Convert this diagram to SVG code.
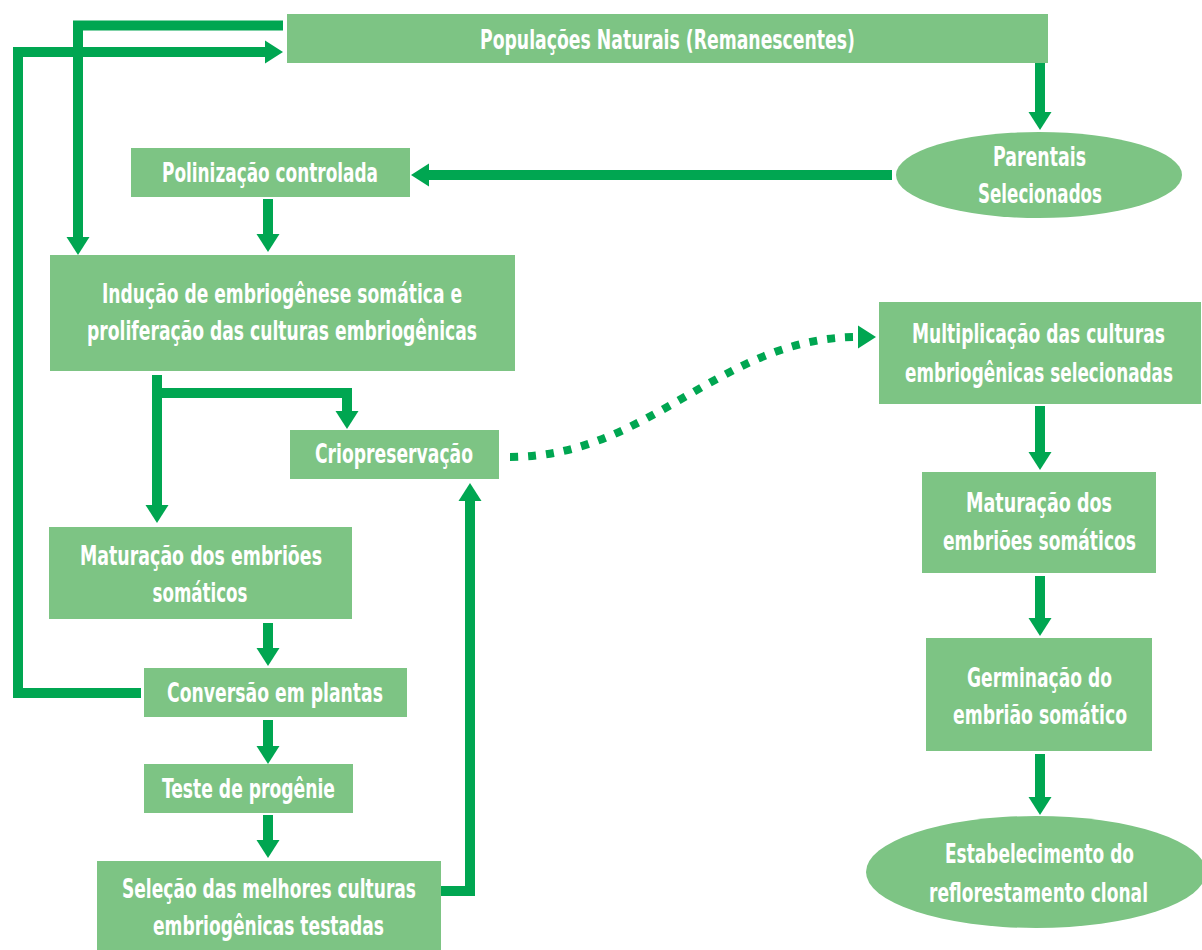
<svg xmlns="http://www.w3.org/2000/svg" width="1202" height="950" viewBox="0 0 1202 950">
<style>
.box{fill:#7dc484;}
.t{fill:#ffffff;font-family:"DejaVu Sans Condensed","DejaVu Sans",sans-serif;font-weight:bold;font-size:26px;text-anchor:middle;}
.c{fill:none;stroke:#00a651;stroke-width:10;stroke-linejoin:miter;stroke-linecap:butt;}
.d{fill:none;stroke:#00a651;stroke-width:8;stroke-dasharray:8 10;}
</style>
<defs>
<marker id="ah" viewBox="0 -11.5 18 23" refX="0" refY="0" markerWidth="18" markerHeight="23" markerUnits="userSpaceOnUse" orient="auto" overflow="visible">
<path d="M0,-11.5 L18,0 L0,11.5 z" fill="#00a651"/>
</marker>
</defs>
<rect width="1202" height="950" fill="#ffffff"/>
<g id="connectors">
<path class="c" d="M283,25.5 H78 V237" marker-end="url(#ah)"/>
<path class="c" d="M141,693 H18 V52 H265" marker-end="url(#ah)"/>
<path class="c" d="M1040,63 V112" marker-end="url(#ah)"/>
<path class="c" d="M892,175 H429" marker-end="url(#ah)"/>
<path class="c" d="M268,199 V234" marker-end="url(#ah)"/>
<path class="c" d="M157,375 V505" marker-end="url(#ah)"/>
<path class="c" d="M152,393 H347 V411" marker-end="url(#ah)"/>
<path class="c" d="M268,623 V648" marker-end="url(#ah)"/>
<path class="c" d="M268,720 V746" marker-end="url(#ah)"/>
<path class="c" d="M268,815 V840" marker-end="url(#ah)"/>
<path class="c" d="M441,891 H470 V501" marker-end="url(#ah)"/>
<path class="d" d="M510,457 C650,457 720,337 858,337" marker-end="url(#ah)"/>
<path class="c" d="M1040,406 V452" marker-end="url(#ah)"/>
<path class="c" d="M1040,576 V618" marker-end="url(#ah)"/>
<path class="c" d="M1040,754 V797" marker-end="url(#ah)"/>
</g>
<g id="populacoes">
<rect class="box" x="287" y="14" width="761" height="49"/>
<text class="t" transform="scale(0.8 1)" x="834.375" y="49" textLength="468.75" lengthAdjust="spacingAndGlyphs">Populações Naturais (Remanescentes)</text>
</g>
<g id="parentais">
<ellipse class="box" cx="1039" cy="175" rx="143" ry="43"/>
<text class="t" transform="scale(0.8 1)" x="1299.375" y="166" textLength="116.25" lengthAdjust="spacingAndGlyphs">Parentais</text>
<text class="t" transform="scale(0.8 1)" x="1300" y="203" textLength="155" lengthAdjust="spacingAndGlyphs">Selecionados</text>
</g>
<g id="polinizacao">
<rect class="box" x="131" y="148" width="279" height="49"/>
<text class="t" transform="scale(0.8 1)" x="337.5" y="182" textLength="270" lengthAdjust="spacingAndGlyphs">Polinização controlada</text>
</g>
<g id="inducao">
<rect class="box" x="50" y="255" width="465" height="116"/>
<text class="t" transform="scale(0.8 1)" x="352.5" y="303" textLength="450" lengthAdjust="spacingAndGlyphs">Indução de embriogênese somática e</text>
<text class="t" transform="scale(0.8 1)" x="352.5" y="340" textLength="487.5" lengthAdjust="spacingAndGlyphs">proliferação das culturas embriogênicas</text>
</g>
<g id="criopreservacao">
<rect class="box" x="290" y="430" width="209" height="49"/>
<text class="t" transform="scale(0.8 1)" x="492.5" y="463" textLength="197.5" lengthAdjust="spacingAndGlyphs">Criopreservação</text>
</g>
<g id="maturacao-esq">
<rect class="box" x="49" y="527" width="303" height="92"/>
<text class="t" transform="scale(0.8 1)" x="251.25" y="565" textLength="302.5" lengthAdjust="spacingAndGlyphs">Maturação dos embriões</text>
<text class="t" transform="scale(0.8 1)" x="250" y="602" textLength="118.75" lengthAdjust="spacingAndGlyphs">somáticos</text>
</g>
<g id="conversao">
<rect class="box" x="144" y="668" width="263" height="49"/>
<text class="t" transform="scale(0.8 1)" x="343.75" y="702" textLength="270" lengthAdjust="spacingAndGlyphs">Conversão em plantas</text>
</g>
<g id="teste">
<rect class="box" x="144" y="764" width="209" height="49"/>
<text class="t" transform="scale(0.8 1)" x="310.625" y="798" textLength="216.25" lengthAdjust="spacingAndGlyphs">Teste de progênie</text>
</g>
<g id="selecao">
<rect class="box" x="97" y="861" width="344" height="89"/>
<text class="t" transform="scale(0.8 1)" x="336.25" y="898" textLength="367.5" lengthAdjust="spacingAndGlyphs">Seleção das melhores culturas</text>
<text class="t" transform="scale(0.8 1)" x="335.625" y="935" textLength="288.75" lengthAdjust="spacingAndGlyphs">embriogênicas testadas</text>
</g>
<g id="multiplicacao">
<rect class="box" x="879" y="302" width="322" height="102"/>
<text class="t" transform="scale(0.8 1)" x="1298.125" y="343" textLength="316.25" lengthAdjust="spacingAndGlyphs">Multiplicação das culturas</text>
<text class="t" transform="scale(0.8 1)" x="1298.75" y="382" textLength="335" lengthAdjust="spacingAndGlyphs">embriogênicas selecionadas</text>
</g>
<g id="maturacao-dir">
<rect class="box" x="922" y="472" width="234" height="101"/>
<text class="t" transform="scale(0.8 1)" x="1298.75" y="512" textLength="182.5" lengthAdjust="spacingAndGlyphs">Maturação dos</text>
<text class="t" transform="scale(0.8 1)" x="1299.375" y="550" textLength="241.25" lengthAdjust="spacingAndGlyphs">embriões somáticos</text>
</g>
<g id="germinacao">
<rect class="box" x="926" y="638" width="226" height="113"/>
<text class="t" transform="scale(0.8 1)" x="1299.375" y="687" textLength="181.25" lengthAdjust="spacingAndGlyphs">Germinação do</text>
<text class="t" transform="scale(0.8 1)" x="1300" y="724" textLength="217.5" lengthAdjust="spacingAndGlyphs">embrião somático</text>
</g>
<g id="estabelecimento">
<ellipse class="box" cx="1036" cy="872" rx="170" ry="56"/>
<text class="t" transform="scale(0.8 1)" x="1299.375" y="863" textLength="236.25" lengthAdjust="spacingAndGlyphs">Estabelecimento do</text>
<text class="t" transform="scale(0.8 1)" x="1298.125" y="902" textLength="273.75" lengthAdjust="spacingAndGlyphs">reflorestamento clonal</text>
</g>
</svg>
